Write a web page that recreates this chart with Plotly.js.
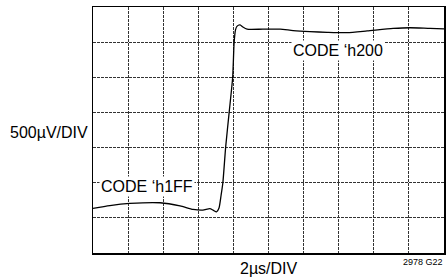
<!DOCTYPE html>
<html>
<head>
<meta charset="utf-8">
<script src="https://cdn.plot.ly/plotly-3.0.1.min.js"></script>
<style>html,body{margin:0;padding:0;background:#fff;}#chart{width:446px;height:279px;}</style>
</head>
<body>
<div id="chart"></div>
<script>
// time in divisions (2µs/DIV), voltage in divisions (500µV/DIV)
const timeDiv = [0, 0.48, 1.05, 1.91, 2.48, 2.85, 3.13, 3.33, 3.42, 3.52, 3.59, 3.65, 3.70, 3.78, 3.88, 3.98, 4.02, 4.06, 4.10, 4.19, 4.27, 4.39, 4.84, 5.33, 5.70, 6.18, 6.67, 7.24, 7.81, 8.55, 9.03, 9.60, 10.0];
const voltDiv = [1.27, 1.35, 1.41, 1.43, 1.34, 1.24, 1.22, 1.26, 1.22, 1.17, 1.28, 1.65, 2.00, 3.02, 4.01, 5.01, 5.98, 6.35, 6.45, 6.49, 6.43, 6.37, 6.37, 6.37, 6.33, 6.30, 6.28, 6.27, 6.32, 6.39, 6.41, 6.39, 6.38];
const xLabel = "2µs/DIV";
const yLabel = "500µV/DIV";
const codeHigh = "CODE ‘h200";
const codeLow = "CODE ‘h1FF";
const figId = "2978 G22";

const font = "Arial, 'Liberation Sans', sans-serif";

const trace = {
  x: timeDiv, y: voltDiv, type: 'scatter', mode: 'lines',
  line: {color: '#000', width: 1.3, shape: 'spline', smoothing: 0.6},
  hoverinfo: 'skip'
};

const axisCommon = {
  showgrid: true, gridcolor: '#333', gridwidth: 1, griddash: '3px,1px',
  showline: true, mirror: true, linecolor: '#000', linewidth: 1.5,
  zeroline: false, showticklabels: false, ticks: '', dtick: 1, tick0: 0,
  fixedrange: true
};

const layout = {
  width: 446, height: 279,
  margin: {l: 93, r: 2, t: 7, b: 26},
  paper_bgcolor: '#fff', plot_bgcolor: '#fff',
  showlegend: false,
  font: {family: font, color: '#000', size: 16},
  xaxis: Object.assign({range: [0, 10]}, axisCommon),
  yaxis: Object.assign({range: [0, 7]}, axisCommon),
  annotations: [
    {text: yLabel, xref: 'paper', yref: 'paper', x: 0, y: 0.5, xanchor: 'right', yanchor: 'middle', xshift: -3, yshift: -2, showarrow: false, font: {size: 16}},
    {text: xLabel, xref: 'paper', yref: 'paper', x: 0.5, y: 0, xanchor: 'center', yanchor: 'middle', yshift: -15, showarrow: false, font: {size: 16}},
    {text: figId, xref: 'paper', yref: 'paper', x: 1, y: 0, xanchor: 'right', yanchor: 'middle', xshift: 1, yshift: -9, showarrow: false, font: {size: 9}},
    {text: codeHigh, xref: 'x', yref: 'y', x: 6.98, y: 5.75, xanchor: 'center', yanchor: 'middle', showarrow: false, bgcolor: '#fff', borderpad: 1, font: {size: 16}},
    {text: codeLow, xref: 'x', yref: 'y', x: 1.55, y: 1.88, xanchor: 'center', yanchor: 'middle', showarrow: false, bgcolor: '#fff', borderpad: 1, font: {size: 16}}
  ]
};

Plotly.newPlot('chart', [trace], layout, {staticPlot: true, displayModeBar: false});
</script>
</body>
</html>
